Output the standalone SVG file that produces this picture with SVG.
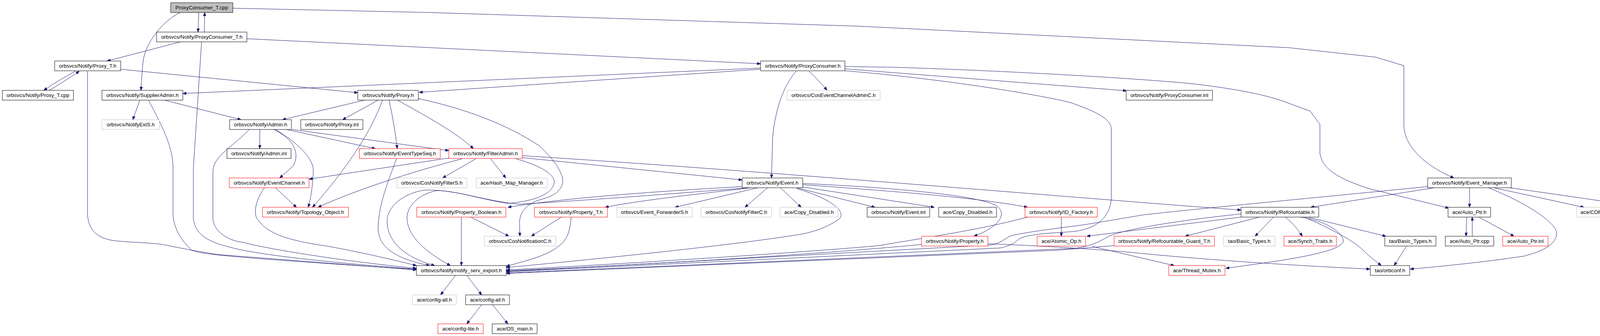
<svg xmlns="http://www.w3.org/2000/svg" width="4381" height="859" viewBox="0 0 4381 859">
<style>
text{font-family:"Liberation Sans",Arial,sans-serif;font-size:13.33px;text-anchor:middle;fill:#000}
rect{fill:#fff;stroke-width:1}
.b{stroke:#000}
.r{stroke:#ff0000}
.g{stroke:#bfbfbf}
.root{fill:#bfbfbf;stroke:#000}
#edges path{fill:none;stroke:#191970;stroke-width:1;marker-end:url(#a)}
</style>
<defs>
<marker id="a" markerWidth="9" markerHeight="7" refX="9" refY="3.5" orient="auto" markerUnits="userSpaceOnUse"><path d="M0,0 L9,3.5 L0,7 z" fill="#191970" stroke="#191970" stroke-width="1"/></marker>
</defs>
<rect x="0" y="0" width="4381" height="859" style="fill:#fff;stroke:none"/>
<g id="edges">
<path d="M509,32 L507,82"/>
<path d="M523,82 L524,32"/>
<path d="M462,32 C420,50 370,110 366,160 C363,190 362,210 361,231"/>
<path d="M596,21 L1100,32 L2200,67 L3300,122 L3521,146 L3594,168 L3594,323 C3596,370 3640,420 3722,455"/>
<path d="M462,107 L274,156"/>
<path d="M516,107 L495,430 L495,557 C497,590 520,615 582,630 C640,648 800,668 1066,688"/>
<path d="M632,99 L1947,163"/>
<path d="M193,182 Q150,205 112,231"/>
<path d="M126,231 Q170,205 203,182"/>
<path d="M309,177 L916,237"/>
<path d="M224,182 L224,547 C226,585 245,608 290,615 C330,620 390,620 421,626 C470,636 520,645 560,651 L1066,690"/>
<path d="M358,256 L340,306"/>
<path d="M421,256 L617,306"/>
<path d="M380,256 C420,330 443,380 443,430 L443,553 C448,590 465,615 491,640 C520,650 560,656 1066,689"/>
<path d="M1947,174 L468,239"/>
<path d="M1947,177 L1073,236"/>
<path d="M2038,182 C2005,220 1985,280 1978,350 L1975,455"/>
<path d="M2071,182 C2090,200 2105,215 2117,231"/>
<path d="M2163,170 L2291,172 C2600,182 2900,200 3042,213 C3150,225 3230,240 3280,257 L3354,284 L3379,318 L3379,392 C3385,430 3420,455 3507,483 L3709,532"/>
<path d="M2163,176 L2884,232"/>
<path d="M2163,181 C2400,200 2650,240 2740,262 C2790,280 2845,300 2845,330 L2845,505 C2843,560 2800,590 2733,593 C2680,596 2630,600 2610,610 C2598,620 2590,628 2560,634 L1296,695"/>
<path d="M933,256 L723,306"/>
<path d="M968,256 L877,306"/>
<path d="M996,256 Q1010,320 1017,380"/>
<path d="M1017,256 C1080,290 1170,340 1212,380"/>
<path d="M979,256 C950,340 880,440 800,530"/>
<path d="M1071,252 C1200,280 1300,320 1381,373 C1420,410 1445,445 1440,470 C1430,500 1400,505 1375,513 C1345,525 1330,545 1330,570 L1331,604"/>
<path d="M1917,480 C1700,497 1489,513 1330,522 C1250,515 1180,490 1121,487 C1070,495 1040,530 1042,560 C1045,610 1100,650 1153,679"/>
<path d="M1321,406 C1390,425 1425,450 1418,470 C1410,500 1360,515 1300,520 C1230,510 1160,483 1086,486 C1030,495 990,530 991,567 C992,620 1040,660 1113,679"/>
<path d="M1218,406 L1133,455"/>
<path d="M1256,406 L1295,455"/>
<path d="M1149,404 L791,458"/>
<path d="M1183,406 C1050,440 900,490 814,530"/>
<path d="M1337,403 L1900,460"/>
<path d="M1337,398 C2000,440 2800,510 3177,537"/>
<path d="M665,331 L665,380"/>
<path d="M701,331 C750,355 770,390 750,425 L716,455"/>
<path d="M705,331 C770,370 805,410 802,440 C800,480 795,510 789,530"/>
<path d="M733,331 L961,380"/>
<path d="M747,331 L1149,385"/>
<path d="M638,331 C590,380 545,400 545,440 L545,560 C548,590 580,615 624,620 C700,640 900,670 1066,686"/>
<path d="M705,480 L759,530"/>
<path d="M677,480 C655,510 645,550 663,565 C690,600 740,615 842,630 C950,650 1030,670 1066,679"/>
<path d="M1015,406 C995,460 970,520 968,580 C966,640 1030,665 1100,679"/>
<path d="M1902,477 C1700,488 1450,505 1300,530"/>
<path d="M1922,480 C1800,495 1650,510 1549,530"/>
<path d="M1940,480 L1728,530"/>
<path d="M1965,480 L1907,530"/>
<path d="M1998,480 L2051,530"/>
<path d="M2039,480 L2240,530"/>
<path d="M2055,478 L2392,530"/>
<path d="M2055,472 C2300,490 2500,505 2631,530"/>
<path d="M2055,469 C2300,480 2500,500 2550,525 C2580,545 2560,580 2493,604"/>
<path d="M2039,482 C2120,505 2170,540 2148,560 C2120,580 2090,590 2060,597 C1900,625 1500,665 1296,684"/>
<path d="M1181,555 L1181,679"/>
<path d="M1205,555 L1303,604"/>
<path d="M1437,555 L1360,604"/>
<path d="M1462,555 C1460,590 1452,615 1429,630 C1400,655 1340,668 1296,681"/>
<path d="M1166,704 L1128,754"/>
<path d="M1195,704 L1233,754"/>
<path d="M1233,779 L1195,828"/>
<path d="M1261,779 L1300,828"/>
<path d="M2717,555 L2717,604"/>
<path d="M2631,555 C2500,590 2350,610 2250,628 C2000,650 1500,680 1296,690"/>
<path d="M2359,625 C2100,650 1600,680 1296,692"/>
<path d="M2529,623 C2700,630 2850,640 2923,648 C3100,665 3300,678 3507,688"/>
<path d="M2796,630 L3006,679"/>
<path d="M3177,555 L2782,604"/>
<path d="M3177,547 C3000,565 2860,590 2833,607 C2810,620 2790,630 2750,635 L1296,698"/>
<path d="M3224,555 L3034,604"/>
<path d="M3260,555 L3213,604"/>
<path d="M3290,555 C3310,570 3325,590 3334,604"/>
<path d="M3328,555 C3400,565 3445,600 3438,620 C3420,650 3250,670 3138,686"/>
<path d="M3341,556 C3420,590 3470,620 3490,640 C3510,660 3525,670 3536,679"/>
<path d="M3348,555 L3548,604"/>
<path d="M2852,628 C2800,632 2760,636 2700,640 L1296,699"/>
<path d="M3655,477 C3300,512 3000,540 2923,550 C2850,562 2780,575 2733,580 C2680,587 2620,595 2587,603 C2570,612 2560,622 2540,626 L1296,694"/>
<path d="M3672,480 L3355,530"/>
<path d="M3762,480 L3762,530"/>
<path d="M3824,480 L4055,530"/>
<path d="M3865,480 L4213,530"/>
<path d="M3810,480 C3900,515 3990,570 3985,600 C3980,630 3940,645 3900,655 C3800,670 3700,680 3610,688"/>
<path d="M3600,630 L3569,679"/>
<path d="M3755,555 L3753,604"/>
<path d="M3769,604 L3769,555"/>
<path d="M3786,555 L3876,604"/>
<path d="M4293,555 L4293,604"/>
</g>
<g id="n1"><rect class="root" x="437" y="7" width="159" height="25"/><text x="516.5" y="24">ProxyConsumer_T.cpp</text></g>
<g id="n2"><rect class="b" x="401" y="82" width="231" height="25"/><text x="516.5" y="99">orbsvcs/Notify/ProxyConsumer_T.h</text></g>
<g id="n3"><rect class="b" x="140" y="156" width="169" height="25"/><text x="224.5" y="173">orbsvcs/Notify/Proxy_T.h</text></g>
<g id="n4"><rect class="b" x="1947" y="156" width="216" height="25"/><text x="2055" y="173">orbsvcs/Notify/ProxyConsumer.h</text></g>
<g id="n5"><rect class="b" x="6" y="231" width="182" height="25"/><text x="97" y="248">orbsvcs/Notify/Proxy_T.cpp</text></g>
<g id="n6"><rect class="b" x="261" y="231" width="207" height="25"/><text x="364.5" y="248">orbsvcs/Notify/SupplierAdmin.h</text></g>
<g id="n7"><rect class="b" x="916" y="231" width="155" height="25"/><text x="993.5" y="248">orbsvcs/Notify/Proxy.h</text></g>
<g id="n8"><rect class="g" x="2015" y="231" width="238" height="25"/><text x="2134" y="248">orbsvcs/CosEventChannelAdminC.h</text></g>
<g id="n9"><rect class="b" x="2883" y="231" width="221" height="25"/><text x="2993.5" y="248">orbsvcs/Notify/ProxyConsumer.inl</text></g>
<g id="n10"><rect class="g" x="261" y="306" width="147" height="25"/><text x="334.5" y="323">orbsvcs/NotifyExtS.h</text></g>
<g id="n11"><rect class="b" x="588" y="306" width="158" height="25"/><text x="667" y="323">orbsvcs/Notify/Admin.h</text></g>
<g id="n12"><rect class="b" x="770" y="306" width="159" height="25"/><text x="849.5" y="323">orbsvcs/Notify/Proxy.inl</text></g>
<g id="n13"><rect class="b" x="581" y="380" width="164" height="25"/><text x="663" y="397">orbsvcs/Notify/Admin.inl</text></g>
<g id="n14"><rect class="r" x="920" y="380" width="207" height="25"/><text x="1023.5" y="397">orbsvcs/Notify/EventTypeSeq.h</text></g>
<g id="n15"><rect class="r" x="1149" y="380" width="188" height="25"/><text x="1243" y="397">orbsvcs/Notify/FilterAdmin.h</text></g>
<g id="n16"><rect class="r" x="587" y="455" width="204" height="25"/><text x="689" y="472">orbsvcs/Notify/EventChannel.h</text></g>
<g id="n17"><rect class="g" x="1016" y="455" width="179" height="25"/><text x="1105.5" y="472">orbsvcs/CosNotifyFilterS.h</text></g>
<g id="n18"><rect class="g" x="1219" y="455" width="182" height="25"/><text x="1310" y="472">ace/Hash_Map_Manager.h</text></g>
<g id="n19"><rect class="b" x="1900" y="455" width="155" height="25"/><text x="1977.5" y="472">orbsvcs/Notify/Event.h</text></g>
<g id="n20"><rect class="b" x="3655" y="455" width="214" height="25"/><text x="3762" y="472">orbsvcs/Notify/Event_Manager.h</text></g>
<g id="n21"><rect class="r" x="672" y="530" width="220" height="25"/><text x="782" y="547">orbsvcs/Notify/Topology_Object.h</text></g>
<g id="n22"><rect class="r" x="1067" y="530" width="228" height="25"/><text x="1181" y="547">orbsvcs/Notify/Property_Boolean.h</text></g>
<g id="n23"><rect class="r" x="1368" y="530" width="187" height="25"/><text x="1461.5" y="547">orbsvcs/Notify/Property_T.h</text></g>
<g id="n24"><rect class="g" x="1579" y="530" width="193" height="25"/><text x="1675.5" y="547">orbsvcs/Event_ForwarderS.h</text></g>
<g id="n25"><rect class="g" x="1795" y="530" width="180" height="25"/><text x="1885" y="547">orbsvcs/CosNotifyFilterC.h</text></g>
<g id="n26"><rect class="g" x="1997" y="530" width="148" height="25"/><text x="2071" y="547">ace/Copy_Disabled.h</text></g>
<g id="n27"><rect class="b" x="2220" y="530" width="160" height="25"/><text x="2300" y="547">orbsvcs/Notify/Event.inl</text></g>
<g id="n28"><rect class="b" x="2403" y="530" width="148" height="25"/><text x="2477" y="547">ace/Copy_Disabled.h</text></g>
<g id="n29"><rect class="r" x="2624" y="530" width="185" height="25"/><text x="2716.5" y="547">orbsvcs/Notify/ID_Factory.h</text></g>
<g id="n30"><rect class="b" x="3177" y="530" width="199" height="25"/><text x="3276.5" y="547">orbsvcs/Notify/Refcountable.h</text></g>
<g id="n31"><rect class="b" x="3707" y="530" width="109" height="25"/><text x="3761.5" y="547">ace/Auto_Ptr.h</text></g>
<g id="n32"><rect class="g" x="4036" y="530" width="155" height="25"/><text x="4113.5" y="547">ace/CORBA_macros.h</text></g>
<g id="n33"><rect class="b" x="4215" y="530" width="156" height="25"/><text x="4293" y="547">ace/CORBA_macros.h</text></g>
<g id="n34"><rect class="g" x="1240" y="604" width="183" height="25"/><text x="1331.5" y="621">orbsvcs/CosNotificationC.h</text></g>
<g id="n35"><rect class="r" x="2359" y="604" width="170" height="25"/><text x="2444" y="621">orbsvcs/Notify/Property.h</text></g>
<g id="n36"><rect class="r" x="2655" y="604" width="124" height="25"/><text x="2717" y="621">ace/Atomic_Op.h</text></g>
<g id="n37"><rect class="r" x="2852" y="604" width="257" height="25"/><text x="2980.5" y="621">orbsvcs/Notify/Refcountable_Guard_T.h</text></g>
<g id="n38"><rect class="g" x="3132" y="604" width="132" height="25"/><text x="3198" y="621">tao/Basic_Types.h</text></g>
<g id="n39"><rect class="r" x="3287" y="604" width="134" height="25"/><text x="3354" y="621">ace/Synch_Traits.h</text></g>
<g id="n40"><rect class="b" x="3545" y="604" width="131" height="25"/><text x="3610.5" y="621">tao/Basic_Types.h</text></g>
<g id="n41"><rect class="b" x="3700" y="604" width="124" height="25"/><text x="3762" y="621">ace/Auto_Ptr.cpp</text></g>
<g id="n42"><rect class="r" x="3847" y="604" width="116" height="25"/><text x="3905" y="621">ace/Auto_Ptr.inl</text></g>
<g id="n43"><rect class="b" x="4208" y="604" width="167" height="25"/><text x="4291.5" y="621">ace/Exception_Macros.h</text></g>
<g id="n44"><rect class="b" x="1066" y="679" width="230" height="25"/><text x="1181" y="696">orbsvcs/Notify/notify_serv_export.h</text></g>
<g id="n45"><rect class="r" x="2992" y="679" width="144" height="25"/><text x="3064" y="696">ace/Thread_Mutex.h</text></g>
<g id="n46"><rect class="b" x="3508" y="679" width="101" height="25"/><text x="3558.5" y="696">tao/orbconf.h</text></g>
<g id="n47"><rect class="g" x="1056" y="754" width="112" height="25"/><text x="1112" y="771">ace/config-all.h</text></g>
<g id="n48"><rect class="b" x="1192" y="754" width="112" height="25"/><text x="1248" y="771">ace/config-all.h</text></g>
<g id="n49"><rect class="r" x="1121" y="828" width="116" height="25"/><text x="1179" y="845">ace/config-lite.h</text></g>
<g id="n50"><rect class="b" x="1260" y="828" width="115" height="25"/><text x="1317.5" y="845">ace/OS_main.h</text></g>
</svg>
